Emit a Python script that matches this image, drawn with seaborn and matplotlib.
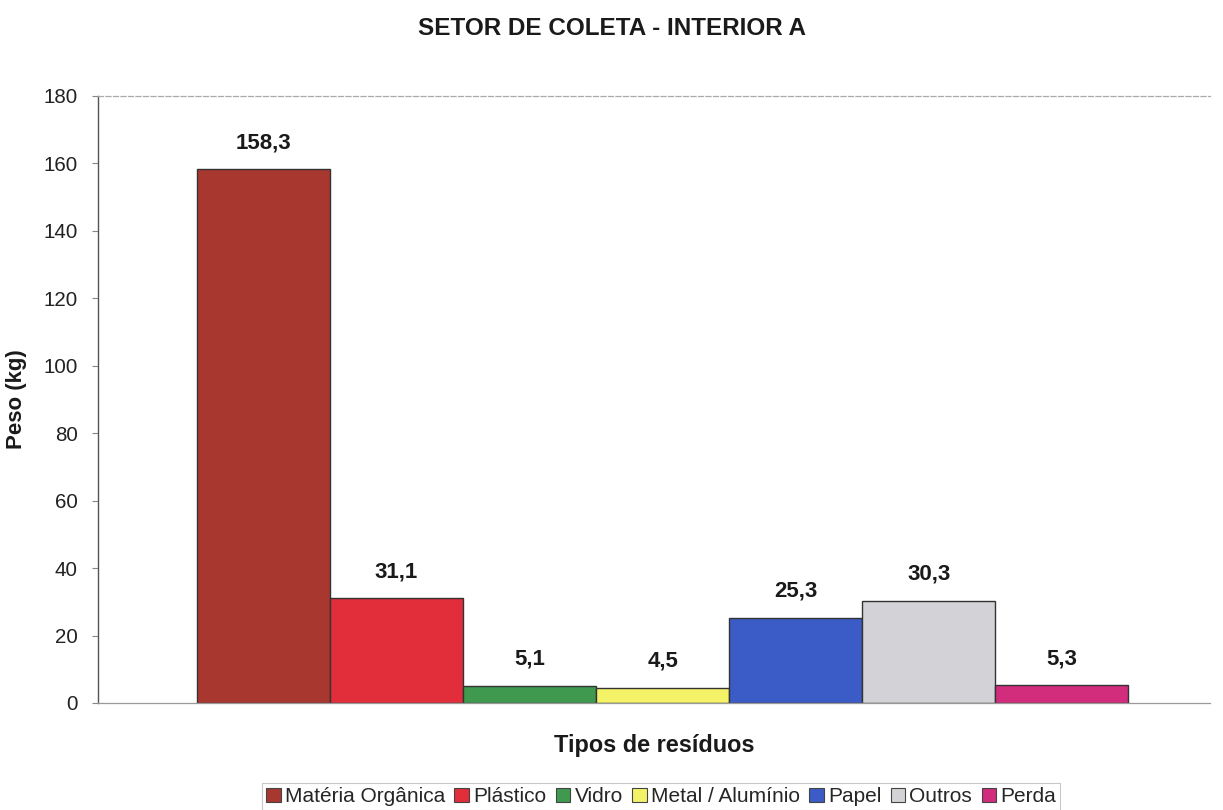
import matplotlib
matplotlib.use("Agg")
import matplotlib.pyplot as plt
import seaborn as sns
import pandas as pd

# Waste composition for the collection sector
tipos = ["Matéria Orgânica", "Plástico", "Vidro", "Metal / Alumínio", "Papel", "Outros", "Perda"]
pesos = [158.3, 31.1, 5.1, 4.5, 25.3, 30.3, 5.3]
rotulos = ["158,3", "31,1", "5,1", "4,5", "25,3", "30,3", "5,3"]
cores = ["#A8372F", "#E22D3A", "#3F9A50", "#F4F266", "#3B5CC6", "#D3D3D7", "#D22C7C"]
y_ticks = [0, 20, 40, 60, 80, 100, 120, 140, 160, 180]

sns.set_theme(style="white")
plt.rcParams["font.family"] = ["Liberation Sans", "DejaVu Sans"]

df = pd.DataFrame({"grupo": [""] * len(tipos), "tipo": tipos, "peso": pesos})

fig = plt.figure(figsize=(12.23, 8.10), dpi=100)
ax = fig.add_axes([0.0801, 0.1321, 0.9093, 0.7494])

sns.barplot(data=df, x="grupo", y="peso", hue="tipo", hue_order=tipos,
            palette=cores, width=0.837, edgecolor="#333333", linewidth=1.0,
            saturation=1, legend=False, ax=ax)

# value labels above each bar
for patch, txt in zip(ax.patches, rotulos):
    cx = patch.get_x() + patch.get_width() / 2
    ax.annotate(txt, (cx, patch.get_height()), xytext=(0, 19), textcoords="offset points",
                ha="center", va="center", fontsize=16, fontweight="bold", color="#1a1a1a")

ax.set_xlim(-0.5075, 0.492)
ax.set_ylim(0, 180)
ax.set_yticks(y_ticks)
ax.set_yticklabels([str(t) for t in y_ticks], fontsize=14.8, color="#222222")
ax.set_xticks([])
ax.tick_params(axis="y", which="both", left=True, length=4, width=0.8, color="#888888", pad=10.4)

ax.spines["right"].set_visible(False)
ax.spines["left"].set_color("#555555")
ax.spines["left"].set_linewidth(1.0)
ax.spines["top"].set_color("#aaaaaa")
ax.spines["top"].set_linestyle((0, (4, 2)))
ax.spines["top"].set_linewidth(0.9)
ax.spines["bottom"].set_color("#999999")
ax.spines["bottom"].set_linewidth(0.9)

ax.set_ylabel("Peso (kg)", fontsize=16, fontweight="bold", labelpad=12, color="#1a1a1a")
ax.set_xlabel("Tipos de resíduos", fontsize=16.9, fontweight="bold", labelpad=22, color="#1a1a1a")

fig.text(0.5, 0.9654, "SETOR DE COLETA - INTERIOR A", ha="center", va="center",
         fontsize=17.5, fontweight="bold", color="#1a1a1a")

handles = [plt.Rectangle((0, 0), 1, 1, facecolor=c, edgecolor="#444444", linewidth=0.8) for c in cores]
leg = fig.legend(handles, tipos, loc="center", bbox_to_anchor=(0.5405, 0.0165), ncol=7,
                 fontsize=15, frameon=True, fancybox=False, handlelength=0.7, handleheight=0.7,
                 handletextpad=0.2, columnspacing=0.45, borderpad=0.2, borderaxespad=0)
leg.get_frame().set_edgecolor("#bbbbbb")
leg.get_frame().set_linewidth(0.8)

fig.savefig("out.png", dpi=100, facecolor="white")
